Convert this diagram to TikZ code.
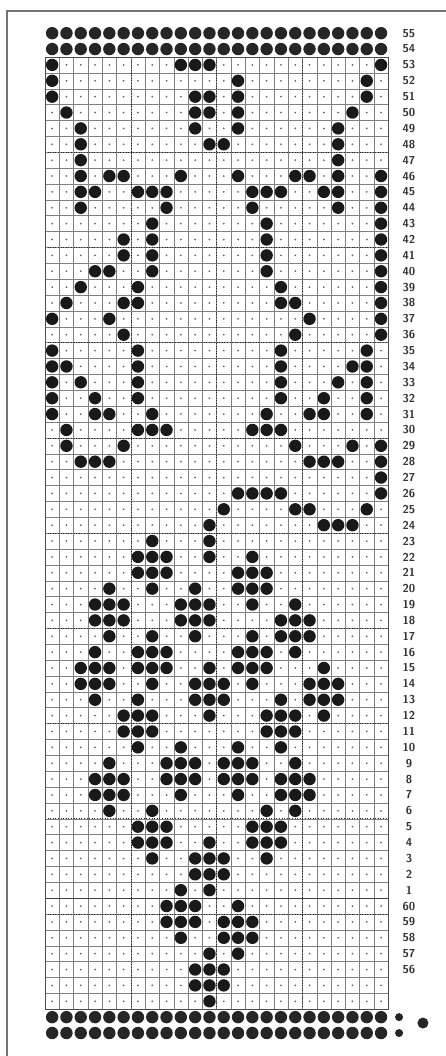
\documentclass[tikz,border=0pt]{standalone}
\usepackage{tikz}

\begin{document}
\begin{tikzpicture}
 [x=1pt,y=-1pt,
  hole/.style={fill=black!90},
  pin/.style={fill=black!85},
  cell dot/.style={fill=black!60},
  grid line/.style={draw=black!50, line width=0.4pt},
  six line/.style={draw=black!85, dotted, line width=0.6pt},
  row label/.style={anchor=center, font=\fontsize{11.5}{12}\selectfont\sffamily\bfseries, text=black!80}]

 \useasboundingbox (0,0) rectangle (446,1056);
 \draw[black!55, line width=1.2pt] (7,1056) -- (7,11) -- (446,11);

 \begin{scope}[shift={(45,57)}, x=14.3pt, y=-15.87pt]

 \foreach \k in {0,...,24} \draw[grid line] (\k,0) -- (\k,60);
 \foreach \k in {0,...,60} \draw[grid line] (0,\k) -- (24,\k);
 \foreach \k in {6,12,18} \draw[six line] (\k,0) -- (\k,60);
 \foreach \k in {6,12,...,54} \draw[six line] (0,\k) -- (24,\k);
 \draw[black!75, line width=0.9pt] (0,53) -- (24,53);
 \draw[black!70, line width=0.8pt] (0,0) rectangle (24,60);

 \foreach \c in {1,...,24}
  \foreach \r in {1,...,60}
   \fill[cell dot] (\c-0.5,\r-0.5) circle[radius=1pt];

 % punched holes, row by row from the top
 \foreach \r/\cols in {
   1/{1,10,11,12,24}, 2/{1,14,23}, 3/{1,11,12,14,23}, 4/{2,11,12,14,22},
   5/{3,11,14,21}, 6/{3,12,13,21}, 7/{3,21}, 8/{3,5,6,10,14,18,19,21,24},
   9/{3,4,7,8,9,15,16,17,20,21,24}, 10/{3,9,15,21,24}, 11/{8,16,24},
   12/{6,8,16,24}, 13/{6,8,16,24}, 14/{4,5,8,16,24}, 15/{3,7,17,24},
   16/{2,6,7,17,18,24}, 17/{1,5,19,24}, 18/{6,18,24}, 19/{1,7,17,23},
   20/{1,2,7,17,22,23}, 21/{1,3,7,17,21,23}, 22/{1,4,7,17,20,23},
   23/{1,4,5,8,16,19,20,23}, 24/{2,7,8,9,15,16,17}, 25/{2,6,18,22,24},
   26/{3,4,5,19,20,21,24}, 27/{24}, 28/{14,15,16,17,24}, 29/{13,18,19,23},
   30/{12,20,21,22}, 31/{8,12}, 32/{7,8,9,12,15}, 33/{7,8,9,14,15,16},
   34/{5,8,11,14,15,16}, 35/{4,5,6,10,11,12,15,18},
   36/{4,5,6,10,11,12,17,18,19}, 37/{5,8,11,15,17,18,19},
   38/{4,7,8,9,14,15,16,18}, 39/{3,4,5,7,8,9,12,14,15,16,20},
   40/{3,4,5,8,11,12,13,15,19,20,21}, 41/{4,7,11,12,13,17,19,20,21},
   42/{6,7,8,12,16,17,18,20}, 43/{6,7,8,16,17,18}, 44/{7,10,14,17},
   45/{5,9,10,11,13,14,15,18}, 46/{4,5,6,9,10,11,13,14,15,17,18,19},
   47/{4,5,6,10,14,17,18,19}, 48/{5,8,16,18}, 49/{7,8,9,15,16,17},
   50/{7,8,9,12,15,16,17}, 51/{8,11,12,13,16}, 52/{11,12,13}, 53/{10,12},
   54/{9,10,11,14}, 55/{9,10,11,13,14,15}, 56/{10,13,14,15}, 57/{12,14},
   58/{11,12,13}, 59/{11,12,13}, 60/{12}}
  \foreach \c in \cols
   \fill[hole] (\c-0.5,\r-0.5) circle[radius=6.2pt];

 % sprocket rows
 \foreach \r in {-1,0,61,62}
  \foreach \c in {1,...,24}
   \fill[pin] (\c-0.5,\r-0.5) circle[radius=6.2pt];
 \foreach \r in {61,62}
  \fill[pin] (24.76,\r-0.5) circle[radius=4pt];
 \fill[pin] (26.43,60.87) circle[radius=5.5pt];

 \foreach \r in {-1,...,53} {
  \pgfmathtruncatemacro\n{54-\r}
  \node[row label] (n\n) at (25.45,\r-0.5) {\n};
 }
 \foreach \r in {54,...,58} {
  \pgfmathtruncatemacro\n{114-\r}
  \node[row label] (n\n) at (25.45,\r-0.5) {\n};
 }

 \end{scope}
\end{tikzpicture}
\end{document}
